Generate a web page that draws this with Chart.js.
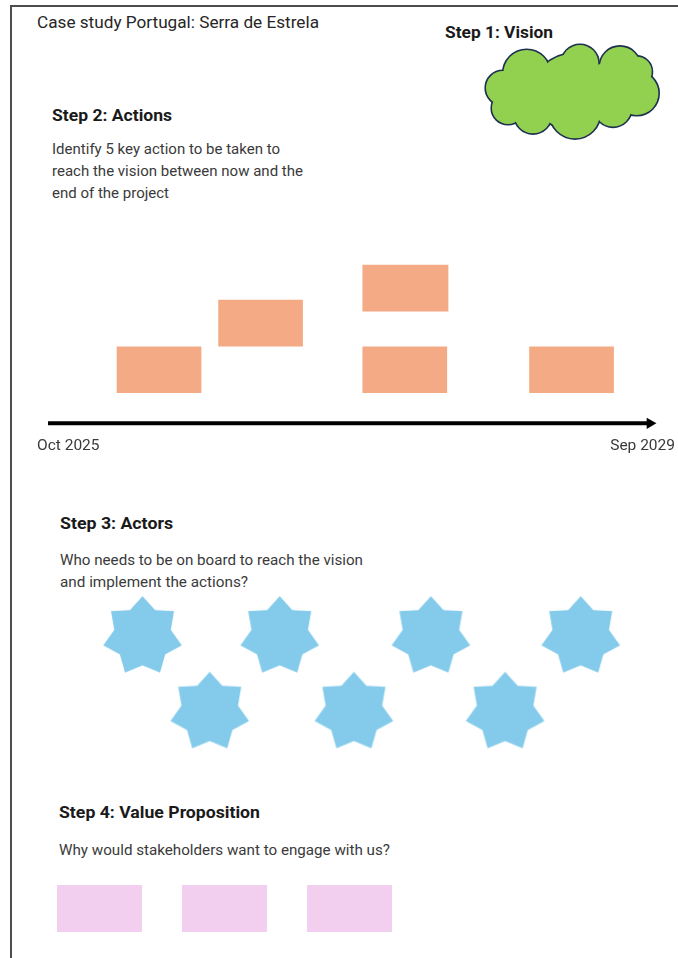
<!DOCTYPE html>
<html>
<head>
<meta charset="utf-8">
<title>Case study Portugal: Serra de Estrela</title>
<script src="https://cdn.jsdelivr.net/npm/chart.js@4.4.1/dist/chart.umd.min.js"></script>
<style>
  html, body { margin: 0; padding: 0; background: #fff; }
  #page {
    position: relative; width: 678px; height: 958px; overflow: hidden;
    background: #fff; font-family: Roboto, 'Noto Sans', sans-serif; color: #262626;
  }
  .frame {
    position: absolute; left: 10px; top: 5px; width: 800px; height: 1000px;
    border-left: 2px solid #4d4d4d; border-top: 2px solid #4d4d4d;
  }
  .txt { position: absolute; white-space: nowrap; line-height: 1; transform-origin: 0 0; }
  .head { font-weight: 700; color: #1a1a1a; }
  .body { color: #3a3a3a; font-size: 15px; }
  .wrap { position: absolute; }
</style>
</head>
<body>
<div id="page">
  <div class="frame"></div>

  <div class="txt" style="left:37px; top:14.5px; font-size:16px;" data-w="282">Case study Portugal: Serra de Estrela</div>
  <div class="txt head" style="left:445px; top:25px; font-size:16px;" data-w="108">Step 1: Vision</div>

  <div class="txt head" style="left:52px; top:107.6px; font-size:16.5px;" data-w="120">Step 2: Actions</div>
  <div class="txt body" style="left:52px; top:141.9px;" data-w="228">Identify 5 key action to be taken to</div>
  <div class="txt body" style="left:52px; top:163.9px;" data-w="251">reach the vision between now and the</div>
  <div class="txt body" style="left:52px; top:185.9px;" data-w="117">end of the project</div>

  <div class="txt head" style="left:60px; top:516.1px; font-size:16.5px;" data-w="113">Step 3: Actors</div>
  <div class="txt body" style="left:60px; top:553px;" data-w="303">Who needs to be on board to reach the vision</div>
  <div class="txt body" style="left:60px; top:574.5px;" data-w="188">and implement the actions?</div>

  <div class="txt head" style="left:59px; top:805.1px; font-size:16.5px;" data-w="201">Step 4: Value Proposition</div>
  <div class="txt body" style="left:59px; top:843.4px;" data-w="331">Why would stakeholders want to engage with us?</div>

  <div class="wrap" style="left:472px; top:42px; width:200px; height:100px;"><canvas id="visionChart"></canvas></div>
  <div class="wrap" style="left:0; top:240px; width:678px; height:215px;"><canvas id="timelineChart"></canvas></div>
  <div class="wrap" style="left:0; top:580px; width:678px; height:180px;"><canvas id="actorsChart"></canvas></div>
  <div class="wrap" style="left:0; top:885px; width:678px; height:47px;"><canvas id="valueChart"></canvas></div>
</div>

<script>
// Timeline in months counted from Oct 2025; the arrow runs to Sep 2029
const timelineLabels = ['Oct 2025', 'Sep 2029'];
const timelineSpan = [0, 48];

// Step 2: five key actions (start / end month, stacking level above the arrow)
const actionStart = [5.5, 13.6, 25.1, 25.1, 38.4];
const actionEnd   = [12.2, 20.3, 31.9, 31.8, 45.1];
const actionLevel = [1.15, 2.15, 2.9, 1.15, 1.15];

// Step 3: seven actors in two staggered rows
const actorColumn = [0, 0.98, 2.06, 3.13, 0.48, 1.51, 2.59];
const actorRow    = [0, 0, 0, 0, 1, 1, 1];

// Step 4: three value proposition boxes
const valueLabels = ['Value 1', 'Value 2', 'Value 3'];
const valueBoxes  = [1, 1, 1];

const COLORS = {
  action: '#f4aa85',
  actor: '#84cbeb',
  value: '#f2cfee',
  cloud: '#92d050',
  cloudLine: '#1e3050',
  tick: '#3a3a3a',
};

Chart.defaults.font.family = "Roboto, 'Noto Sans', sans-serif";
Chart.defaults.animation = false;
Chart.defaults.responsive = true;
Chart.defaults.maintainAspectRatio = false;
Chart.defaults.plugins.legend.display = false;
Chart.defaults.plugins.tooltip.enabled = false;
Chart.defaults.layout.autoPadding = false;

function fitText() {
  document.querySelectorAll('.txt[data-w]').forEach(el => {
    const w = el.getBoundingClientRect().width;
    if (w > 0) el.style.transform = `scaleX(${+el.dataset.w / w})`;
  });
}

function makeStar(r, ratio, color) {
  const size = Math.ceil(r * 2 + 4);
  const c = document.createElement('canvas');
  c.width = c.height = size;
  const g = c.getContext('2d');
  const mid = size / 2;
  g.beginPath();
  for (let k = 0; k < 14; k++) {
    const rad = k % 2 === 0 ? r : r * ratio;
    const a = -Math.PI / 2 + k * Math.PI / 7;
    g.lineTo(mid + rad * Math.cos(a), mid + rad * Math.sin(a));
  }
  g.closePath();
  g.fillStyle = color;
  g.fill();
  return c;
}

function makeCloud() {
  const c = document.createElement('canvas');
  c.width = 180; c.height = 100;
  const g = c.getContext('2d');
  // puffs, relative to the canvas corner
  const puffs = [
    [21, 46, 17], [26, 66, 16], [51, 73, 18.3], [93, 71.3, 25],
    [131, 66.3, 18.3], [154.7, 51.3, 21.7], [154.7, 29.7, 15], [138, 24.7, 20],
    [98, 21.3, 18.3], [44.7, 31.3, 23.3], [90, 50, 38], [58, 50, 28], [128, 48, 28],
  ];
  g.lineWidth = 3.2;
  g.strokeStyle = COLORS.cloudLine;
  puffs.forEach(([x, y, r]) => { g.beginPath(); g.arc(x, y, r, 0, Math.PI * 2); g.stroke(); });
  g.fillStyle = COLORS.cloud;
  puffs.forEach(([x, y, r]) => { g.beginPath(); g.arc(x, y, r, 0, Math.PI * 2); g.fill(); });
  return c;
}

function hiddenLinear(min, max, extra) {
  return Object.assign({ type: 'linear', display: false, min, max, offset: false }, extra || {});
}

// Step 1: vision cloud
new Chart(document.getElementById('visionChart'), {
  type: 'scatter',
  data: {
    datasets: [{
      data: [{ x: 0, y: 0 }],
      pointStyle: makeCloud(),
      pointRadius: 40,
    }],
  },
  options: {
    scales: { x: hiddenLinear(-1, 1), y: hiddenLinear(-1, 1) },
  },
});

// Step 2: timeline with action boxes
new Chart(document.getElementById('timelineChart'), {
  type: 'bar',
  data: {
    datasets: [
      {
        type: 'line',
        data: timelineSpan.map(m => ({ x: m, y: 0 })),
        borderColor: '#000',
        borderWidth: 4,
        pointStyle: 'triangle',
        rotation: 90,
        pointRadius: [0, 6.5],
        pointBorderWidth: 0,
        pointBackgroundColor: '#000',
        clip: false,
        order: 1,
      },
      {
        type: 'bar',
        indexAxis: 'y',
        data: actionStart.map((s, i) => ({ x: [s, actionEnd[i]], y: actionLevel[i] })),
        backgroundColor: COLORS.action,
        borderWidth: 0,
        barThickness: 46,
        grouped: false,
        order: 2,
      },
    ],
  },
  options: {
    layout: { padding: { left: 37, right: 3, top: 1.6, bottom: 0 } },
    scales: {
      x: {
        type: 'linear', min: -0.88, max: 50, offset: false,
        afterBuildTicks: scale => { scale.ticks = [{ value: scale.min }, { value: scale.max }]; },
        ticks: {
          callback: (v, i) => timelineLabels[i],
          align: 'inner', padding: 0, autoSkip: false, maxRotation: 0,
          color: COLORS.tick, font: { size: 15.5 },
        },
        grid: { display: false, drawTicks: false },
        border: { display: false },
      },
      y: hiddenLinear(-0.28, 3.9),
    },
  },
});

// Step 3: actors
const actorStar = makeStar(40.3, 0.72, COLORS.actor);
new Chart(document.getElementById('actorsChart'), {
  type: 'scatter',
  data: {
    datasets: [{
      data: actorColumn.map((c, i) => ({ x: c, y: actorRow[i] })),
      pointStyle: actorStar,
      pointRadius: 40,
    }],
  },
  options: {
    scales: {
      x: hiddenLinear(-1.018, 3.825),
      y: hiddenLinear(-0.744, 1.634, { reverse: true }),
    },
  },
});

// Step 4: value proposition boxes
new Chart(document.getElementById('valueChart'), {
  type: 'bar',
  data: {
    labels: valueLabels,
    datasets: [{
      data: valueBoxes,
      backgroundColor: COLORS.value,
      borderWidth: 0,
      barPercentage: 0.68,
      categoryPercentage: 1,
    }],
  },
  options: {
    layout: { padding: { left: 37, right: 266, top: 0, bottom: 0 } },
    scales: {
      x: { display: false },
      y: hiddenLinear(0, 1),
    },
  },
});

fitText();
</script>
</body>
</html>
